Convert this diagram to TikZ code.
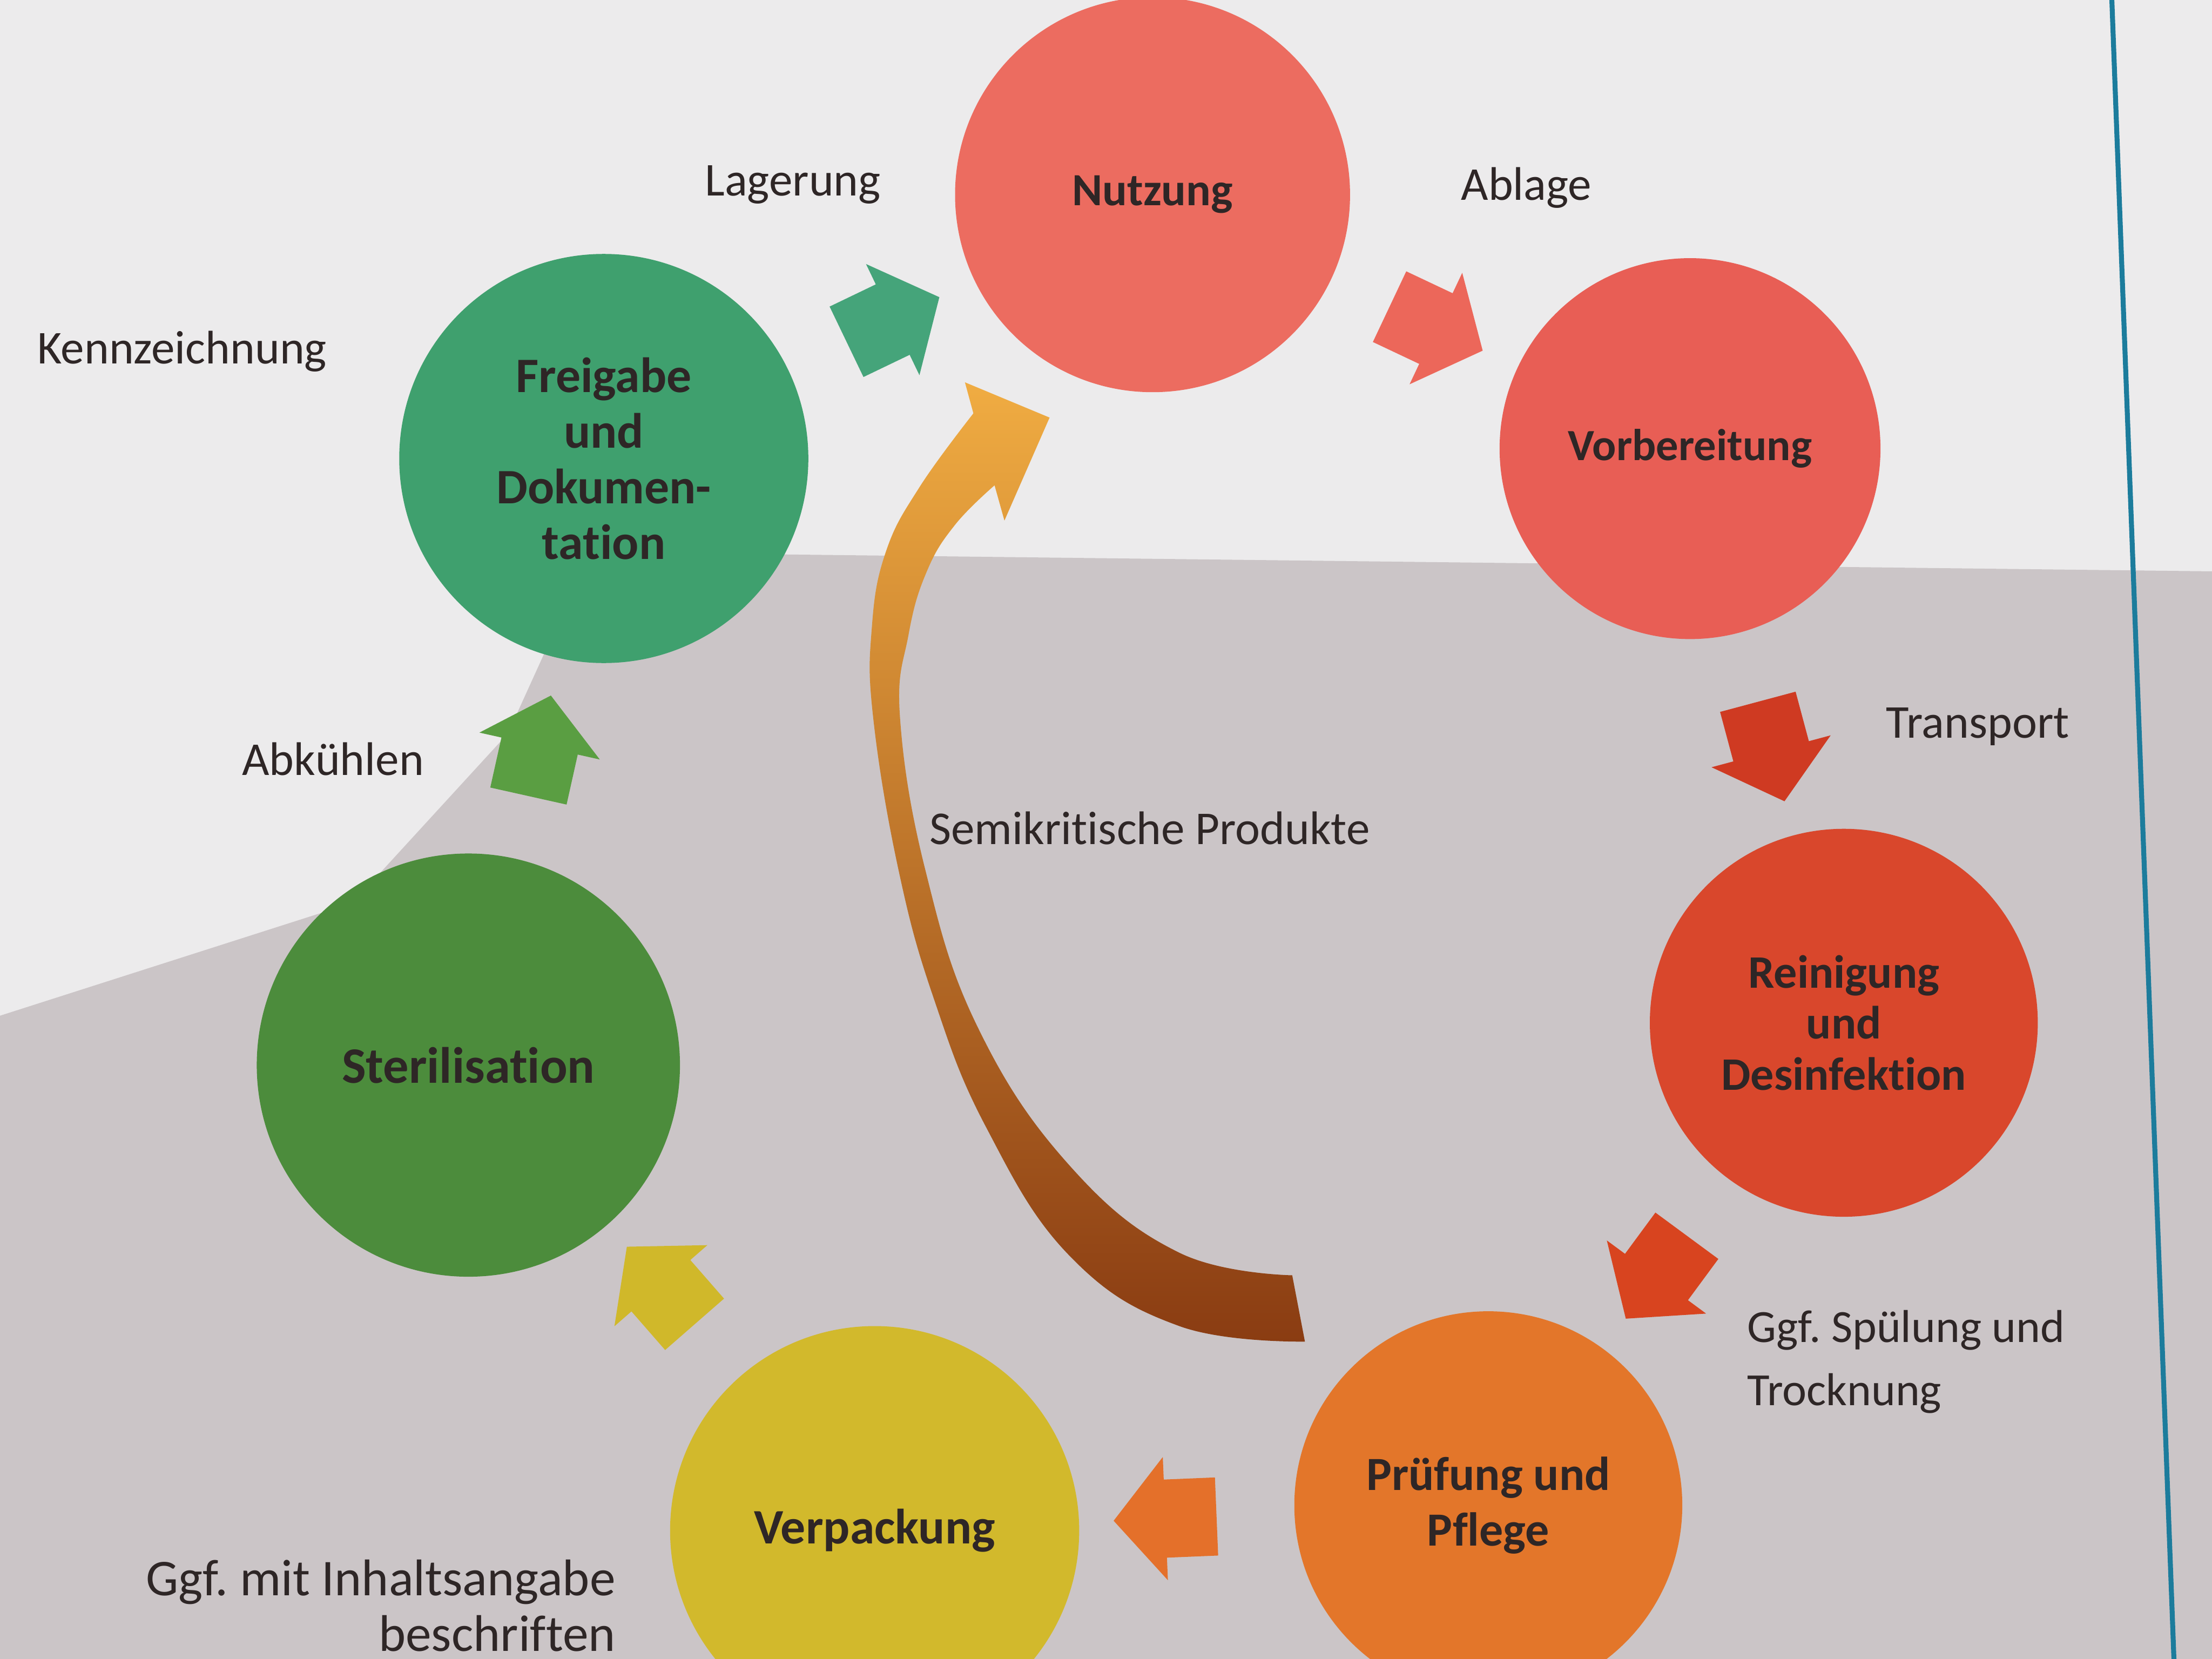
\documentclass[tikz,border=0pt]{standalone}
\usepackage{fontspec}
\setmainfont[Ligatures=NoCommon]{Carlito}
\usetikzlibrary{shapes.arrows,calc,positioning}

\definecolor{paper}{HTML}{ECEBEC}
\definecolor{shadowgray}{HTML}{CBC5C7}
\definecolor{ink}{HTML}{2E2626}
\definecolor{rule}{HTML}{1C7C9C}
\definecolor{nutzcol}{HTML}{EC6C60}
\definecolor{vorbcol}{HTML}{E85E55}
\definecolor{reincol}{HTML}{D9472C}
\definecolor{pruefcol}{HTML}{E3762A}
\definecolor{verpcol}{HTML}{D2B92C}
\definecolor{sterilcol}{HTML}{4C8C3C}
\definecolor{freicol}{HTML}{3FA06E}
\definecolor{tealarr}{HTML}{45A47A}
\definecolor{salmarr}{HTML}{EC675A}
\definecolor{redarr}{HTML}{CF3A22}
\definecolor{rustarr}{HTML}{D8441F}
\definecolor{orarr}{HTML}{E4702A}
\definecolor{yelarr}{HTML}{D0B82A}
\definecolor{grnarr}{HTML}{5A9E42}
\definecolor{goldtop}{HTML}{F0AC42}
\definecolor{goldmid}{HTML}{D98A24}
\definecolor{goldbot}{HTML}{8A3C12}

\begin{document}
\frenchspacing
\begin{tikzpicture}[x=0.1mm, y=-0.1mm,
    phase/.style={circle, minimum size=#1, inner sep=0pt, align=center, text=ink},
    fs/.style={font=\fontsize{#1}{11.2}\selectfont\bfseries},
    blockarrow/.style={single arrow, single arrow tip angle=100, single arrow head extend=1.6mm,
                       minimum height=7.3mm, inner xsep=0pt, inner ysep=2.7mm, fill=#1},
    note/.style={text=ink, inner sep=0pt, font=\fontsize{9.5}{12.5}\selectfont}]
  \useasboundingbox (0,0) rectangle (1568,1176);
  \clip (0,0) rectangle (1568,1176);
  \fill[paper] (0,0) rectangle (1568,1176);
  \fill[shadowgray] (0,720) -- (250,640) -- (360,520) -- (410,410) -- (470,392) -- (1568,405)
    -- (1568,1176) -- (0,1176) -- cycle;
  \draw[rule, line width=0.35mm] (1497,0) -- (1541,1176);

  \node[phase=28mm, fs=9.3, fill=nutzcol] (nutz) at (817,138) {Nutzung};
  \node[phase=27mm, fs=9, fill=vorbcol] (vorb) at (1198,318) {Vorbereitung};
  \node[phase=27.5mm, fill=reincol, font=\fontsize{9.4}{10.3}\selectfont\bfseries] (rein) at (1307,725)
    {Reinigung\\und\\Desinfektion};
  \node[phase=27.5mm, fs=9.6, fill=pruefcol] (pruef) at (1055,1067) {Prüfung und\\Pflege};
  \node[phase=29mm, fs=10, fill=verpcol] (verp) at (620,1085) {Verpackung};
  \node[phase=30mm, fs=10.3, fill=sterilcol] (steril) at (332,755) {Sterilisation};
  \node[phase=29mm, fs=10, fill=freicol] (frei) at (428,325) {Freigabe\\und\\Dokumen-\\tation};

  \foreach \src/\dst/\col in {frei/nutz/tealarr, nutz/vorb/salmarr, vorb/rein/redarr, rein/pruef/rustarr,
                              pruef/verp/orarr, verp/steril/yelarr, steril/frei/grnarr}
    \path let \p1=($(\dst)-(\src)$), \n1={atan2(\y1,\x1)} in
      node[blockarrow=\col, rotate=\n1] (\src-\dst) at ($(\src)!0.5!(\dst)$) {};

  % Rueckweg fuer semikritische Produkte
  \shade[top color=goldtop, middle color=goldmid, bottom color=goldbot]
    plot[smooth, tension=0.7] coordinates {(925,951) (836,940) (758,890) (699,799) (662,708)
      (637,617) (619,509) (618,445) (628,391) (652,345) (690,293)}
    -- (684,271) -- (744,296) -- (712,369) -- (705,344)
    -- plot[smooth, tension=0.7] coordinates {(705,344) (677,372) (657,405) (644,450) (638,509)
      (656,617) (693,728) (758,826) (836,888) (916,904)}
    -- cycle;

  \node[note] (lager) at (562,131) {Lagerung};
  \node[note] (ablage) at (1082,133) {Ablage};
  \node[note] (kennz) at (129,249) {Kennzeichnung};
  \node[note] (transp) at (1402,515) {Transport};
  \node[note] (abk) at (236,538) {Abkühlen};
  \node[note] (semi) at (815,587) {Semikritische Produkte};
  \node[note, anchor=north west, align=left, font=\fontsize{9.3}{12.8}\selectfont] (spuel) at (1238,928)
    {Ggf. Spülung und\\Trocknung};
  \node[note, anchor=north east, align=right, font=\fontsize{10.4}{11.2}\selectfont] (inhalt) at (437,1105)
    {Ggf. mit Inhaltsangabe\\beschriften};
\end{tikzpicture}
\end{document}
